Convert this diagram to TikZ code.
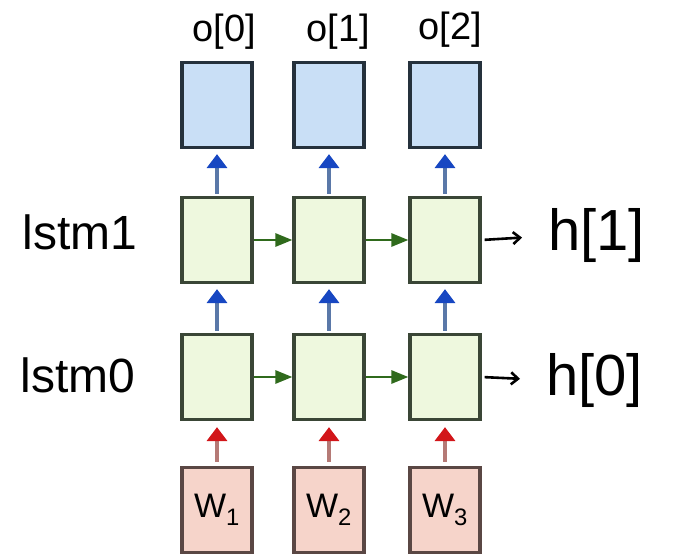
\documentclass[tikz,border=0pt]{standalone}
\usepackage{fontspec}
\setmainfont{Liberation Sans}
\usetikzlibrary{arrows.meta}
\definecolor{bfill}{HTML}{C9DFF6}
\definecolor{bdraw}{HTML}{25313C}
\definecolor{gfill}{HTML}{EEF8DE}
\definecolor{gdraw}{HTML}{3A4636}
\definecolor{rfill}{HTML}{F6D4CA}
\definecolor{rdraw}{HTML}{5A4744}
\definecolor{bshaft}{HTML}{5A78A8}
\definecolor{bhead}{HTML}{1747C2}
\definecolor{rshaft}{HTML}{B57A76}
\definecolor{rhead}{HTML}{D2161A}
\definecolor{garrow}{HTML}{2F6A1C}
\tikzset{
  cell/.style={minimum width=70pt, minimum height=85pt, line width=3.2pt, inner sep=0pt},
  outbox/.style={cell, fill=bfill, draw=bdraw},
  lstmbox/.style={cell, fill=gfill, draw=gdraw},
  inbox/.style={cell, fill=rfill, draw=rdraw},
  uparrowblue/.style={draw=bshaft, line width=4.5pt, -{Triangle[width=20pt,length=14pt,color=bhead]}, shorten >=5pt, shorten <=2pt},
  uparrowred/.style={draw=rshaft, line width=4.5pt, -{Triangle[width=20pt,length=14pt,color=rhead]}, shorten >=6pt, shorten <=4pt},
  rarrow/.style={draw=garrow, line width=2.8pt, -{Triangle[width=13pt,length=17pt]}},
  hand/.style={text=black, inner sep=0pt},
  harrow/.style={draw=black, line width=2.6pt, -{Straight Barb[width=12pt,length=7pt]}, shorten <=3pt, shorten >=26pt},
}
\begin{document}
\begin{tikzpicture}[x=1pt,y=-1pt]
\useasboundingbox (0,0) rectangle (681,560);
% columns
\foreach \i/\x in {1/217,2/329,3/445} {
  \node[outbox]  (o\i) at (\x,105) {};
  \node[lstmbox] (a\i) at (\x,240) {};
  \node[lstmbox] (b\i) at (\x,377) {};
  \node[inbox]   (w\i) at (\x,510) {};
}
% input labels
\node[hand, font=\fontsize{34}{38}\selectfont] at (w1) {W\textsubscript{1}};
\node[hand, font=\fontsize{34}{38}\selectfont] at (w2) {W\textsubscript{2}};
\node[hand, font=\fontsize{34}{38}\selectfont] at (w3) {W\textsubscript{3}};
% output labels
\node[hand, font=\fontsize{38}{42}\selectfont] (l0) at (224,32) {o[0]};
\node[hand, font=\fontsize{38}{42}\selectfont] (l1) at (338,32) {o[1]};
\node[hand, font=\fontsize{38}{42}\selectfont] (l2) at (450,30) {o[2]};
% layer labels
\node[hand, font=\fontsize{48}{54}\selectfont] (t1) at (80,232) {lstm1};
\node[hand, font=\fontsize{48}{54}\selectfont] (t0) at (78,375) {lstm0};
% hidden states
\node[hand, font=\fontsize{58}{64}\selectfont, anchor=west] (h1) at (548,236) {h[1]};
\node[hand, font=\fontsize{58}{64}\selectfont, anchor=west] (h0) at (546,380) {h[0]};
% arrows
\foreach \i in {1,2,3} {
  \draw[uparrowred]  (w\i.north) -- (b\i.south);
  \draw[uparrowblue] (b\i.north) -- (a\i.south);
  \draw[uparrowblue] (a\i.north) -- (o\i.south);
}
\draw[rarrow] (a1.east) -- (a2.west);
\draw[rarrow] (a2.east) -- (a3.west);
\draw[rarrow] (b1.east) -- (b2.west);
\draw[rarrow] (b2.east) -- (b3.west);
\draw[harrow] (a3.east) -- (h1.west);
\draw[harrow] (b3.east) -- (h0.west);
\end{tikzpicture}
\end{document}
